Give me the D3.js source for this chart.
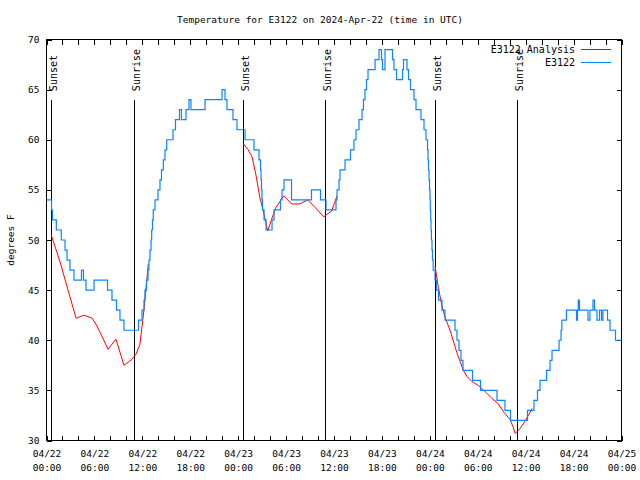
<!DOCTYPE html>
<html><head><meta charset="utf-8">
<script src="https://cdn.jsdelivr.net/npm/d3@7"></script>
<style>body{margin:0;background:#fff}svg{display:block}</style>
</head><body>
<svg id="c" width="640" height="480"></svg>
<script>
const title = "Temperature for E3122 on 2024-Apr-22 (time in UTC)";
const yLabel = "degrees F";
const startDate = "2024-04-22T00:00:00Z";
const endDate = "2024-04-25T00:00:00Z";
const yTicks = [30, 35, 40, 45, 50, 55, 60, 65, 70];
const seriesNames = ["E3122 Analysis", "E3122"];
const seriesColors = ["#ff0000", "#0a85ff"];
const sunsetHours = [0.57, 24.62, 48.67];
const sunriseHours = [10.95, 34.92, 58.93];

// observations (hours since start, temperature), value holds until next change
const obsHours = [0,0.63,0.75,1.23,1.85,2.32,2.57,2.94,3.44,4.38,4.63,4.95,5.95,7.64,8.20,8.77,9.20,9.70,11.52,11.96,12.21,12.33,12.52,12.71,12.83,12.96,13.09,13.17,13.27,13.37,13.59,13.96,14.21,14.40,14.63,14.84,15.05,15.84,16.15,16.65,16.90,17.47,17.84,18.09,19.85,21.98,22.35,22.60,23.35,23.85,24.86,25.98,26.61,26.80,26.86,26.92,26.98,27.05,27.24,27.49,28.24,28.49,29.30,29.49,29.74,30.68,33.18,34.31,35.00,36.25,36.38,36.63,36.75,37.38,38.07,38.50,38.76,39.13,39.51,39.69,39.88,40.07,40.26,41.14,41.64,41.95,42.07,42.39,43.33,43.51,43.83,44.58,44.70,45.14,45.33,45.58,46.02,46.27,46.89,47.27,47.52,47.71,47.77,47.83,47.90,47.96,48.02,48.06,48.11,48.15,48.20,48.27,48.33,48.42,48.65,48.84,49.09,49.52,49.90,51.15,51.40,51.65,51.90,52.15,53.34,54.35,56.41,57.41,58.10,60.23,61.04,61.48,61.80,62.61,63.05,63.30,64.18,64.43,64.53,65.11,66.37,66.49,66.59,66.74,67.80,68.05,68.43,68.62,68.93,69.25,69.50,69.68,70.25,70.56,71.25,72];
const obsTemps = [54,53,52,51,50,49,48,47,46,47,46,45,46,45,44,43,42,41,42,43,44,45,46,47,48,49,50,51,52,53,54,55,56,57,58,59,60,61,62,63,62,63,64,63,64,65,64,63,62,61,60,59,58,57,56,55,54,53,52,51,52,53,54,55,56,54,55,54,53,54,55,56,57,58,59,60,61,62,63,64,65,66,67,68,69,68,67,69,68,67,66,67,68,67,66,65,64,63,62,61,60,59,58,57,56,55,54,53,52,51,50,49,48,47,46,45,44,43,42,41,40,39,38,37,36,35,34,33,32,33,34,35,36,37,38,39,40,41,42,43,42,43,44,43,42,43,44,43,42,43,42,43,42,41,40,40];

// analysis (null = gap)
const anaHours = [0.6,1.7,2.7,3.7,4.7,5.7,6.2,6.7,7.7,8.7,9.7,10.7,11.2,11.7,12.2,12.75, 13.5,
  24.65,25.2,25.7,26.2,26.7,27.2,27.7,28.2,28.7,29.7,30.7,31.7,32.7,33.7,34.7,35.7,36.38, 37,
  48.65,49.06,49.49,49.90,50.53,51.37,52.19,52.65,53.24,54.07,55.03,55.78,56.53,57.29,58.04,58.4,58.7,59.3,59.9,60.4,60.8];
const anaTemps = [50.5,47.8,45.0,42.2,42.5,42.2,41.6,40.8,39.1,40.1,37.5,38.1,38.6,39.6,43.0,47.6, null,
  59.6,59.05,58.4,56.6,54.3,52.7,50.9,52.1,53.2,54.4,53.6,53.6,54.0,53.2,52.3,52.9,54.4, null,
  47.4,45.3,43.5,42.3,41.0,38.8,37.0,36.4,35.9,35.5,34.8,34.2,33.7,32.8,32.1,31.4,30.7,31.2,31.9,32.6,33.2];

const FONT = "DejaVu Sans Mono";
const svg = d3.select("#c");
const t0 = new Date(startDate), t1 = new Date(endDate);
const hr = h => new Date(t0.getTime() + h * 3600e3);
const x = d3.scaleUtc().domain([t0, t1]).range([46.5, 621.5]);
const y = d3.scaleLinear().domain([30, 70]).range([440.5, 39.5]);

svg.append("rect").attr("width", 640).attr("height", 480).attr("fill", "#fff");

// title
svg.append("text").attr("x", 320).attr("y", 23).attr("text-anchor", "middle")
  .attr("font-family", FONT).attr("font-size", 9.5).text(title);

// y label
svg.append("text").attr("transform", "translate(14,240) rotate(-90)")
  .attr("text-anchor", "middle").attr("font-family", FONT).attr("font-size", 9.5).text(yLabel);

function styleAxis(g) {
  g.selectAll("line").attr("stroke", "#000").attr("shape-rendering", "crispEdges");
  g.select(".domain").remove();
}
const twoHour = d3.utcHour.every(2);
svg.append("g").attr("transform", "translate(0,440.5)")
  .call(d3.axisBottom(x).ticks(twoHour).tickSize(-5).tickSizeOuter(0).tickFormat("")).call(styleAxis);
svg.append("g").attr("transform", "translate(0,39.5)")
  .call(d3.axisTop(x).ticks(twoHour).tickSize(-5).tickSizeOuter(0).tickFormat("")).call(styleAxis);
svg.append("g").attr("transform", "translate(46.5,0)")
  .call(d3.axisLeft(y).tickValues(yTicks).tickSize(-5).tickSizeOuter(0).tickPadding(7)).call(styleAxis)
  .call(g => g.selectAll("text").attr("font-family", FONT).attr("font-size", 9.5).attr("fill", "#000"));
svg.append("g").attr("transform", "translate(621.5,0)")
  .call(d3.axisRight(y).tickValues(yTicks).tickSize(-5).tickSizeOuter(0).tickFormat("")).call(styleAxis);

// x labels (two lines)
const fmtD = d3.utcFormat("%m/%d"), fmtT = d3.utcFormat("%H:%M");
const xl = svg.append("g").attr("transform", "translate(0,440.5)")
  .call(d3.axisBottom(x).ticks(d3.utcHour.every(6)).tickSize(0).tickFormat(""));
xl.select(".domain").remove();
xl.selectAll(".tick").each(function(d) {
  const t = d3.select(this).append("text").attr("text-anchor", "middle")
    .attr("font-family", FONT).attr("font-size", 9.5).attr("fill", "#000");
  t.append("tspan").attr("x", 0).attr("y", 16.5).text(fmtD(d));
  t.append("tspan").attr("x", 0).attr("y", 30).text(fmtT(d));
});

// frame
svg.append("rect").attr("x", 46.5).attr("y", 39.5).attr("width", 575).attr("height", 401)
  .attr("fill", "none").attr("stroke", "#000").attr("shape-rendering", "crispEdges");

// sunrise / sunset
const sunEvents = sunsetHours.map(h => ({h, label: "Sunset"}))
  .concat(sunriseHours.map(h => ({h, label: "Sunrise"})));
const sunG = svg.append("g");
sunEvents.forEach(e => {
  const xx = Math.round(x(hr(e.h))) + 0.5;
  sunG.append("line").attr("x1", xx).attr("x2", xx).attr("y1", y(30)).attr("y2", y(64))
    .attr("stroke", "#000").attr("shape-rendering", "crispEdges");
  sunG.append("text").attr("transform", `translate(${xx + 5.5},${y(64.85)}) rotate(-90)`)
    .attr("font-family", FONT).attr("font-size", 10).text(e.label);
});

// series
const anaData = anaHours.map((h, i) => ({h, v: anaTemps[i]}));
const obsData = obsHours.map((h, i) => ({h, v: obsTemps[i]}));
const anaLine = d3.line().defined(d => d.v != null).x(d => x(hr(d.h))).y(d => y(d.v));
const obsLine = d3.line().curve(d3.curveStepAfter).x(d => x(hr(d.h))).y(d => y(d.v));
svg.append("path").attr("d", anaLine(anaData)).attr("fill", "none")
  .attr("stroke", seriesColors[0]).attr("stroke-width", 1);
svg.append("path").attr("d", obsLine(obsData)).attr("fill", "none")
  .attr("stroke", seriesColors[1]).attr("stroke-width", 1.2);

// legend
const leg = svg.append("g");
seriesNames.forEach((n, i) => {
  const ly = 49.5 + i * 13;
  leg.append("text").attr("x", 575).attr("y", ly + 3.8).attr("text-anchor", "end")
    .attr("font-family", FONT).attr("font-size", 10).text(n);
  leg.append("line").attr("x1", 581).attr("x2", 611).attr("y1", ly).attr("y2", ly)
    .attr("stroke", seriesColors[i]).attr("stroke-width", 1).attr("shape-rendering", "crispEdges");
});
</script>
</body></html>
